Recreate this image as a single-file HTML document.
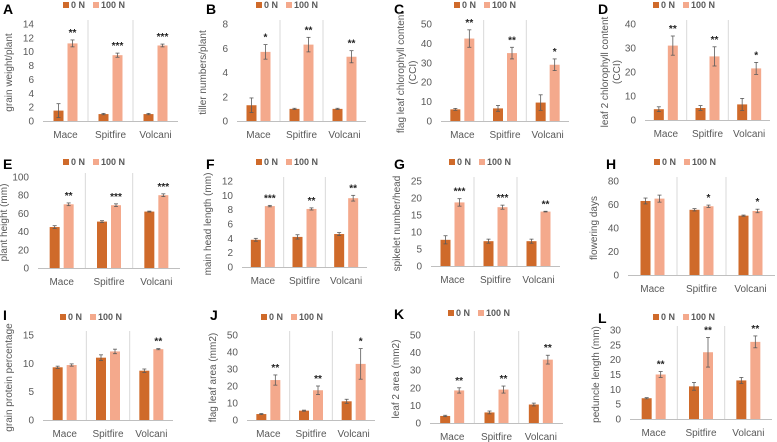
<!DOCTYPE html>
<html><head><meta charset="utf-8"><style>
html,body{margin:0;padding:0;background:#fff;}
svg{display:block;font-family:"Liberation Sans",sans-serif;}
</style></head><body>
<svg id="fig" width="777" height="442" viewBox="0 0 777 442"></svg>
<script>
const categories = ["Mace","Spitfire","Volcani"];
const panelLetters = ["A","B","C","D","E","F","G","H","I","J","K","L"];
const yTitles = [["grain weight/plant"],["tiller numbers/plant"],["flag leaf chlorophyll content","(CCI)"],["leaf 2 chlorophyll content","(CCI)"],["plant height (mm)"],["main head length (mm)"],["spikelet number/head"],["flowering days"],["grain protein percentage"],["flag leaf area (mm2)"],["leaf 2 area (mm2)"],["peduncle length (mm)"]];
const yMaxes = [14,8,50,40,100,12,25,80,15,50,50,30];
const yStepsV = [2,2,10,10,20,2,5,20,5,10,10,5];
const zeroN = [[1.5,1.0,1.0],[1.3,1.0,1.0],[6,6.5,9.5],[4.5,5,6.5],[45,51,62],[3.8,4.2,4.6],[7.7,7.3,7.3],[63,55.5,50.5],[9.3,11.0,8.7],[3.5,5.5,11],[4,6,10.5],[7,11,13]];
const zeroErr = [[1.0,0.1,0.1],[0.6,0.05,0.05],[0.5,1.5,4],[1,1,2.5],[1.5,1,0.5],[0.2,0.3,0.2],[1.2,0.6,0.6],[2.5,1,0.5],[0.2,0.5,0.3],[0.3,0.3,1.2],[0.4,0.8,0.8],[0.2,1.3,1]];
const hundredN = [[11.2,9.5,10.9],[5.7,6.3,5.3],[42.5,35,29],[31,26.5,21.5],[70,69,80],[8.5,8.1,9.6],[18.7,17.3,16],[65,58.5,54.5],[9.7,12.1,12.5],[23.5,17.5,33],[18.5,19,36],[15,22.5,26]];
const hundredErr = [[0.5,0.3,0.2],[0.6,0.6,0.5],[4.5,3,3],[4,4,2.5],[1.5,1.5,1.5],[0.1,0.15,0.4],[1.1,0.6,0.1],[3,1,1.5],[0.2,0.4,0.1],[3,2.5,9],[1.5,2,2.5],[1,5,2]];
const significance = [["**","***","***"],["*","**","**"],["**","**","*"],["**","**","*"],["**","***","***"],["***","**","**"],["***","***","**"],["","*","*"],["","","**"],["**","**","*"],["**","**","**"],["**","**","**"]];

// layout: [x0, x1, yTop, yBottom, letterX, letterY, legendX, legendY]
const layout = [
 [43,178,24,121,3,14,63,5],[237,366,24,121,206,14,256,5],[441,569,24,121,394,14,454,5],[645,770,24,120,598,14,653,5],
 [38,180,177,268,3,169,63,162],[242,367,181,267,206,169,256,162],[431,560,181,266,394,169,449,162],[628,775,181,275,606,169,654,162],
 [43,173,335,420,3,320,60,317],[247,375,335,420,210,320,261,317],[430,563,335,423,394,319,448,313],[630,772,330,419,598,323,653,317]];

const NS="http://www.w3.org/2000/svg";
const svg=document.getElementById('fig');
function mk(tag,attrs,parent){const e=document.createElementNS(NS,tag);for(const k in attrs)e.setAttribute(k,attrs[k]);(parent||svg).appendChild(e);return e;}
const C0="#CF6A2A", C1="#F4A98C", TXT="#595959";

for(let p=0;p<12;p++){
  const [x0,x1,yT,yB,lx,ly,gx,gy]=layout[p];
  const g=mk('g',{});
  
  
  const yScale=v=>yB-(v/yMaxes[p])*(yB-yT);
  const catW=(x1-x0)/3;
  const xCat=i=>x0+catW*(i+0.5);
  // letter
  const L=mk('text',{x:lx,y:ly,'font-size':14,'font-weight':'bold',fill:'#000'},g);L.textContent=panelLetters[p];
  
  
  // legend
  const leg=mk('g',{},g);
  
  
  mk('rect',{x:gx,y:gy-3,width:6,height:6,fill:C0},leg);
  const t0=mk('text',{x:gx+8,y:gy+3,'font-size':9,'font-weight':'bold',fill:TXT},leg);t0.textContent="0 N";
  
  
  mk('rect',{x:gx+30,y:gy-3,width:6,height:6,fill:C1},leg);
  const t1=mk('text',{x:gx+38,y:gy+3,'font-size':9,'font-weight':'bold',fill:TXT},leg);t1.textContent="100 N";
  
  
  // dividers
  for(let i=1;i<3;i++){const d=mk('line',{x1:x0+catW*i,x2:x0+catW*i,y1:yT-4,y2:yB,stroke:'#d9d9d9','stroke-width':1},g);
    
    }
  // ticks
  for(let v=0;v<=yMaxes[p]+1e-9;v+=yStepsV[p]){
    const t=mk('text',{x:x0-9,y:yScale(v)+3.5,'font-size':10,fill:TXT,'text-anchor':'end'},g);t.textContent=v;
    
    
  }
  // axis
  const ax=mk('line',{x1:x0,x2:x1,y1:yB+0.5,y2:yB+0.5,stroke:'#bfbfbf','stroke-width':1},g);
  
  
  // y title
  const lines=yTitles[p];
  const cy=(yT+yB)/2;
  lines.forEach((s,k)=>{
    const tx=x0-31+(lines.length===2?(k===0?-6:6):0);
    const t=mk('text',{x:tx,y:cy,'font-size':10,fill:TXT,'text-anchor':'middle',transform:`rotate(-90 ${tx} ${cy})`},g);t.textContent=s;
    
    
  });
  // bars
  for(let i=0;i<3;i++){
    const cx=xCat(i);
    const series=[[zeroN[p][i],zeroErr[p][i],C0,cx-12,'bar-0n'],[hundredN[p][i],hundredErr[p][i],C1,cx+2,'bar-100n']];
    series.forEach(([v,e,col,bx,nm])=>{
      const r=mk('rect',{x:bx,y:yScale(v),width:10,height:yB-yScale(v),fill:col},g);
      
      
      const ex=bx+5, ya=yScale(v+e), yb=yScale(Math.max(0,v-e));
      const eg=mk('g',{stroke:'#5a5a5a','stroke-width':0.8},g);
      
      
      mk('line',{x1:ex,x2:ex,y1:ya,y2:yb},eg);
      mk('line',{x1:ex-2,x2:ex+2,y1:ya,y2:ya},eg);
      mk('line',{x1:ex-2,x2:ex+2,y1:yb,y2:yb},eg);
    });
    const sg=significance[p][i];
    if(sg){const t=mk('text',{x:cx+7,y:yScale(hundredN[p][i]+hundredErr[p][i])-4,'font-size':10,'font-weight':'bold',fill:'#222','text-anchor':'middle'},g);t.textContent=sg;
      
      }
    const cl=mk('text',{x:cx,y:yB+17,'font-size':10,fill:TXT,'text-anchor':'middle'},g);cl.textContent=categories[i];
    
    
  }
}
</script>
</body></html>
